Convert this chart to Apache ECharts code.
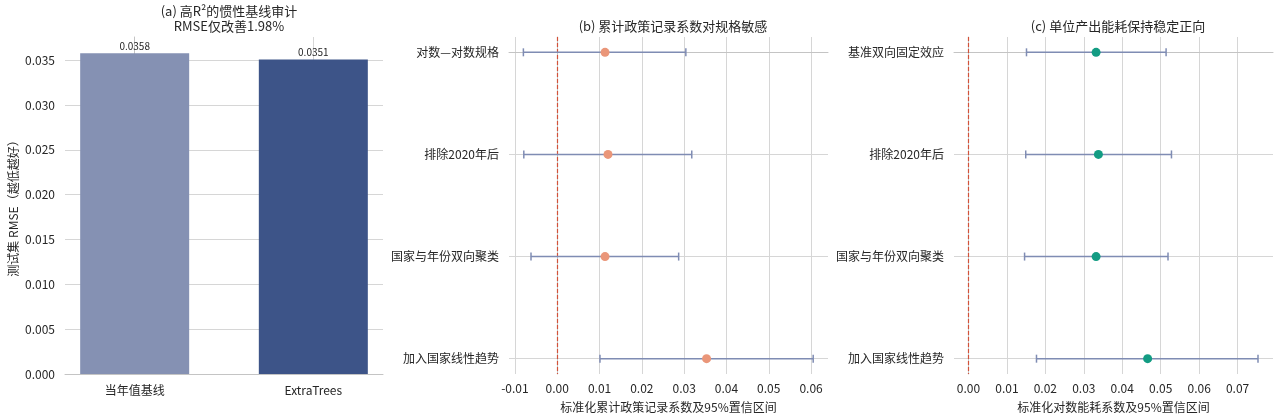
<!DOCTYPE html>
<html><head><meta charset="utf-8">
<script src="https://cdn.jsdelivr.net/npm/echarts@6/dist/echarts.min.js"></script>
<style>html,body{margin:0;padding:0;background:#fff}#c{width:1280px;height:418px}</style>
</head><body><div id="c"></div>
<script>
const categoriesA = ['当年值基线', 'ExtraTrees'];
const rmseValues = [0.0358, 0.0351];
const ticksA = [0, 0.005, 0.01, 0.015, 0.02, 0.025, 0.03, 0.035];

const specsB = ['对数—对数规格', '排除2020年后', '国家与年份双向聚类', '加入国家线性趋势'];
const coefB = [0.0113, 0.0120, 0.0113, 0.0353];
const lowB = [-0.0080, -0.0079, -0.0062, 0.0101];
const highB = [0.0304, 0.0318, 0.0287, 0.0605];
const ticksB = [-0.01, 0, 0.01, 0.02, 0.03, 0.04, 0.05, 0.06];

const specsC = ['基准双向固定效应', '排除2020年后', '国家与年份双向聚类', '加入国家线性趋势'];
const coefC = [0.0332, 0.0338, 0.0332, 0.0466];
const lowC = [0.0151, 0.0149, 0.0146, 0.0177];
const highC = [0.0514, 0.0528, 0.0519, 0.0753];
const ticksC = [0, 0.01, 0.02, 0.03, 0.04, 0.05, 0.06, 0.07];

const rowIdx = [0, 1, 2, 3];
const catIdx = [0, 1];
const FONT = '"Noto Sans CJK SC", "Noto Sans", sans-serif';
const TXT = '#262626';
const GRID = '#d6d6d6';
const SPINE = '#c4c4c4';
const ERR = '#7f8cb3';
const BAR_COLORS = ['#8591b3', '#3d5488'];

const chart = echarts.init(document.getElementById('c'));

function errSeries(xi, yi, lows, highs) {
  return {
    type: 'custom', xAxisIndex: xi, yAxisIndex: yi, z: 3,
    data: rowIdx.map(i => [lows[i], highs[i], i]),
    encode: { x: [0, 1], y: 2 },
    renderItem(params, api) {
      const y = api.value(2);
      const p1 = api.coord([api.value(0), y]);
      const p2 = api.coord([api.value(1), y]);
      const st = { stroke: ERR, lineWidth: 1.5 };
      return { type: 'group', children: [
        { type: 'line', shape: { x1: p1[0], y1: p1[1], x2: p2[0], y2: p2[1] }, style: st },
        { type: 'line', shape: { x1: p1[0], y1: p1[1] - 4, x2: p1[0], y2: p1[1] + 4 }, style: st },
        { type: 'line', shape: { x1: p2[0], y1: p2[1] - 4, x2: p2[0], y2: p2[1] + 4 }, style: st }
      ]};
    }
  };
}
function ptSeries(xi, yi, coefs, color) {
  return {
    type: 'scatter', xAxisIndex: xi, yAxisIndex: yi, z: 4,
    symbolSize: 9, itemStyle: { color: color, opacity: 1 },
    data: rowIdx.map(i => [coefs[i], i]),
    markLine: {
      silent: true, symbol: 'none', label: { show: false }, z: 2,
      lineStyle: { type: [4, 2], color: '#d2523a', width: 1.2 },
      data: [{ xAxis: 0 }]
    }
  };
}
function valX(gi, min, max, ticks, name) {
  return {
    type: 'value', gridIndex: gi, min: min, max: max,
    name: name, nameLocation: 'middle', nameGap: 27,
    nameTextStyle: { fontFamily: FONT, fontSize: 12, color: TXT },
    axisLine: { show: true, lineStyle: { color: SPINE } },
    axisTick: { show: false, customValues: ticks },
    axisLabel: { customValues: ticks, formatter: v => v.toFixed(2), fontFamily: FONT, fontSize: 12, color: TXT, margin: 8 },
    splitLine: { show: true, lineStyle: { color: GRID, width: 1 } }
  };
}
function rowY(gi, specs) {
  return {
    type: 'value', gridIndex: gi, min: -0.15, max: 3.15, inverse: true,
    axisLine: { show: true, lineStyle: { color: SPINE } },
    axisTick: { show: false, customValues: rowIdx },
    axisLabel: { customValues: rowIdx, formatter: v => specs[Math.round(v)], fontFamily: FONT, fontSize: 12, color: TXT, margin: 10 },
    splitLine: { show: true, lineStyle: { color: GRID, width: 1 } }
  };
}

chart.setOption({
  animation: false,
  textStyle: { fontFamily: FONT },
  title: [
    { text: '(a) 高R²的惯性基线审计\nRMSE仅改善1.98%', left: 224, top: -1, textAlign: 'center',
      textStyle: { fontFamily: FONT, fontSize: 13, fontWeight: 'normal', color: TXT, lineHeight: 15 } },
    { text: '(b) 累计政策记录系数对规格敏感', left: 668, top: 15, textAlign: 'center',
      textStyle: { fontFamily: FONT, fontSize: 13, fontWeight: 'normal', color: TXT } },
    { text: '(c) 单位产出能耗保持稳定正向', left: 1113, top: 15, textAlign: 'center',
      textStyle: { fontFamily: FONT, fontSize: 13, fontWeight: 'normal', color: TXT } }
  ],
  grid: [
    { left: 65, top: 37, width: 318, height: 337 },
    { left: 509, top: 37, width: 319, height: 337 },
    { left: 954, top: 37, width: 319, height: 337 }
  ],
  xAxis: [
    { type: 'value', gridIndex: 0, min: -0.39, max: 1.39,
      axisLine: { show: true, lineStyle: { color: SPINE } },
      axisTick: { show: false, customValues: catIdx },
      axisLabel: { customValues: catIdx, formatter: v => categoriesA[Math.round(v)], fontFamily: FONT, fontSize: 12, color: TXT, margin: 10 },
      splitLine: { show: true, lineStyle: { color: GRID, width: 1 } } },
    valX(1, -0.0114, 0.064, ticksB, '标准化累计政策记录系数及95%置信区间'),
    valX(2, -0.00375, 0.0792, ticksC, '标准化对数能耗系数及95%置信区间')
  ],
  yAxis: [
    { type: 'value', gridIndex: 0, min: 0, max: 0.0376,
      name: '测试集 RMSE（越低越好）', nameLocation: 'middle', nameGap: 46,
      nameTextStyle: { fontFamily: FONT, fontSize: 12, color: TXT },
      axisLine: { show: true, lineStyle: { color: SPINE } },
      axisTick: { show: false, customValues: ticksA },
      axisLabel: { customValues: ticksA, formatter: v => v.toFixed(3), fontFamily: FONT, fontSize: 12, color: TXT, margin: 10 },
      splitLine: { show: true, lineStyle: { color: GRID, width: 1 } } },
    rowY(1, specsB),
    rowY(2, specsC)
  ],
  series: [
    { type: 'bar', xAxisIndex: 0, yAxisIndex: 0, z: 3, barWidth: 109,
      data: rmseValues.map((v, i) => ({ value: [catIdx[i], v], itemStyle: { color: BAR_COLORS[i] } })),
      label: { show: true, position: 'top', distance: 2, formatter: p => p.value[1].toFixed(4),
        fontFamily: FONT, fontSize: 10, color: TXT } },
    errSeries(1, 1, lowB, highB),
    ptSeries(1, 1, coefB, '#ea9679'),
    errSeries(2, 2, lowC, highC),
    ptSeries(2, 2, coefC, '#139c83')
  ]
});
</script></body></html>
